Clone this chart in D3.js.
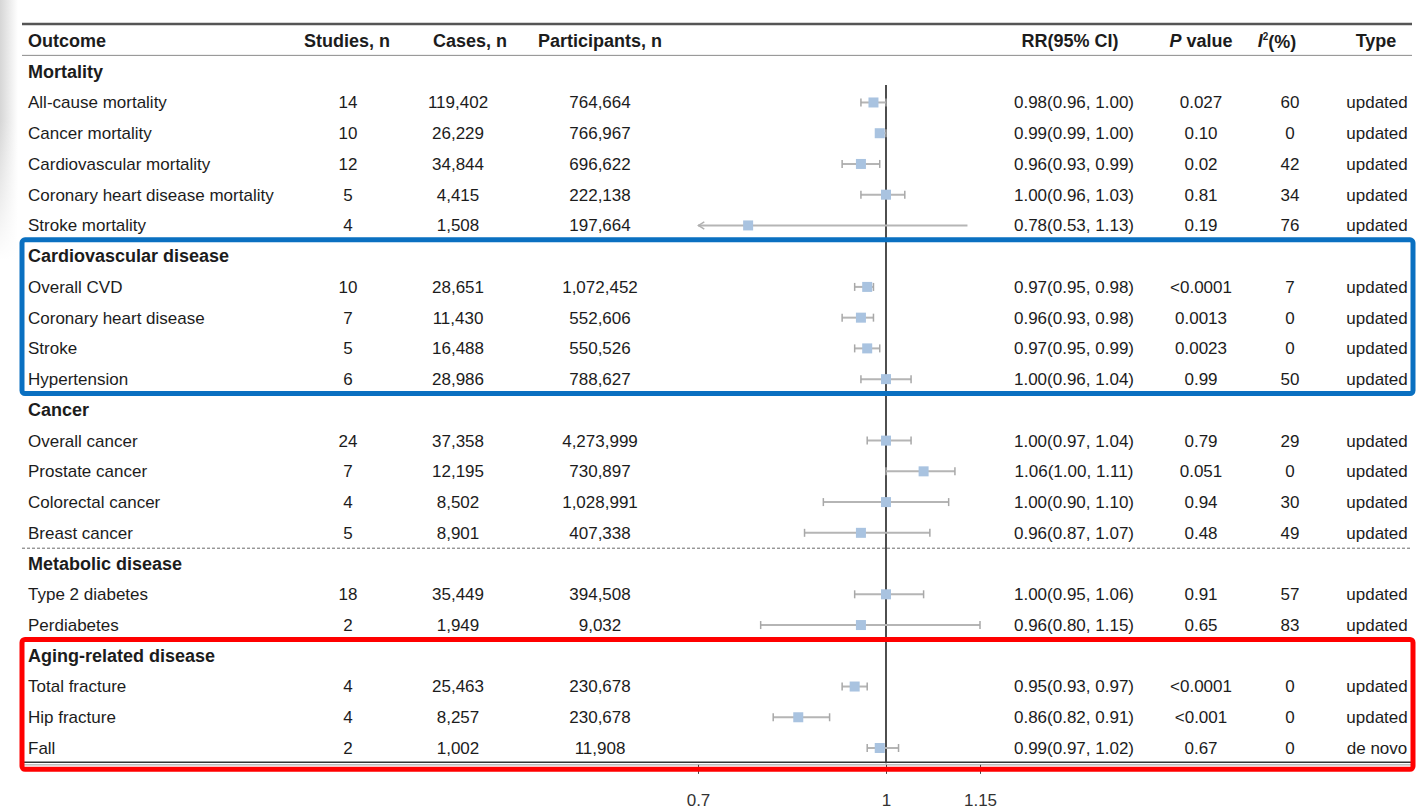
<!DOCTYPE html>
<html>
<head>
<meta charset="utf-8">
<script src="https://cdn.jsdelivr.net/npm/d3@7"></script>
<style>
  body { margin: 0; background: #fff; }
  svg { display: block; font-family: "Liberation Sans", Arial, sans-serif; }
</style>
</head>
<body>
<div id="chart"></div>
<script>
// rows of the table, in drawing order (section headers have no values)
const outcomes = [
  "Mortality", "All-cause mortality", "Cancer mortality", "Cardiovascular mortality",
  "Coronary heart disease mortality", "Stroke mortality",
  "Cardiovascular disease", "Overall CVD", "Coronary heart disease", "Stroke", "Hypertension",
  "Cancer", "Overall cancer", "Prostate cancer", "Colorectal cancer", "Breast cancer",
  "Metabolic disease", "Type 2 diabetes", "Perdiabetes",
  "Aging-related disease", "Total fracture", "Hip fracture", "Fall"
];
const sections = ["Mortality", "Cardiovascular disease", "Cancer", "Metabolic disease", "Aging-related disease"];
const studies = [null, 14, 10, 12, 5, 4, null, 10, 7, 5, 6, null, 24, 7, 4, 5, null, 18, 2, null, 4, 4, 2];
const cases = [null, 119402, 26229, 34844, 4415, 1508, null, 28651, 11430, 16488, 28986,
  null, 37358, 12195, 8502, 8901, null, 35449, 1949, null, 25463, 8257, 1002];
const participants = [null, 764664, 766967, 696622, 222138, 197664, null, 1072452, 552606, 550526, 788627,
  null, 4273999, 730897, 1028991, 407338, null, 394508, 9032, null, 230678, 230678, 11908];
const rr = [null, 0.98, 0.99, 0.96, 1.00, 0.78, null, 0.97, 0.96, 0.97, 1.00,
  null, 1.00, 1.06, 1.00, 0.96, null, 1.00, 0.96, null, 0.95, 0.86, 0.99];
const ciLow = [null, 0.96, 0.99, 0.93, 0.96, 0.53, null, 0.95, 0.93, 0.95, 0.96,
  null, 0.97, 1.00, 0.90, 0.87, null, 0.95, 0.80, null, 0.93, 0.82, 0.97];
const ciHigh = [null, 1.00, 1.00, 0.99, 1.03, 1.13, null, 0.98, 0.98, 0.99, 1.04,
  null, 1.04, 1.11, 1.10, 1.07, null, 1.06, 1.15, null, 0.97, 0.91, 1.02];
const pValues = [null, "0.027", "0.10", "0.02", "0.81", "0.19", null, "<0.0001", "0.0013", "0.0023", "0.99",
  null, "0.79", "0.051", "0.94", "0.48", null, "0.91", "0.65", null, "<0.0001", "<0.001", "0.67"];
const i2 = [null, 60, 0, 42, 34, 76, null, 7, 0, 0, 50, null, 29, 0, 30, 49, null, 57, 83, null, 0, 0, 0];
const types = [null, "updated", "updated", "updated", "updated", "updated", null, "updated", "updated", "updated", "updated",
  null, "updated", "updated", "updated", "updated", null, "updated", "updated", null, "updated", "updated", "de novo"];
const axisTicks = [0.7, 1, 1.15];
const blueBoxRows = ["Cardiovascular disease", "Hypertension"];
const redBoxRows = ["Aging-related disease", "Fall"];

const width = 1419, height = 810;
const textColor = "#1c1c1c";

const rows = outcomes.map((name, i) => ({
  name, i,
  isSection: sections.includes(name),
  studies: studies[i], cases: cases[i], participants: participants[i],
  rr: rr[i], lo: ciLow[i], hi: ciHigh[i],
  p: pValues[i], i2: i2[i], type: types[i]
}));

const y = d3.scaleLinear().domain([-1, outcomes.length - 1]).range([41, 748]);
const x = d3.scaleLinear().domain([0.7, 1.15]).range([698, 980]);
const xMin = x.domain()[0];
const fmtN = d3.format(",");
const f2 = d3.format(".2f");

const svg = d3.select("#chart").append("svg")
  .attr("width", width).attr("height", height)
  .attr("viewBox", [0, 0, width, height]);

// faint scan shadow on the left edge
const defs = svg.append("defs");
const grad = defs.append("linearGradient").attr("id", "edge").attr("x1", 0).attr("x2", 1);
grad.append("stop").attr("offset", 0).attr("stop-color", "#d6d6d6");
grad.append("stop").attr("offset", 1).attr("stop-color", "#fff");
const gradV = defs.append("linearGradient").attr("id", "fade").attr("x1", 0).attr("x2", 0).attr("y1", 0).attr("y2", 1);
gradV.append("stop").attr("offset", 0).attr("stop-color", "#fff").attr("stop-opacity", 0);
gradV.append("stop").attr("offset", 1).attr("stop-color", "#fff").attr("stop-opacity", 1);
defs.append("marker").attr("id", "arrow")
  .attr("viewBox", "0 0 10 10").attr("refX", 1).attr("refY", 5)
  .attr("markerWidth", 9).attr("markerHeight", 9).attr("orient", "auto")
  .attr("markerUnits", "userSpaceOnUse")
  .append("path").attr("d", "M8,1L1.5,5L8,9").attr("fill", "none")
  .attr("stroke", "#b0b0b0").attr("stroke-width", 1.6);

svg.append("rect").attr("x", 0).attr("y", 0).attr("width", 18).attr("height", 260).attr("fill", "url(#edge)");
svg.append("rect").attr("x", 0).attr("y", 120).attr("width", 18).attr("height", 140).attr("fill", "url(#fade)");

const left = 22, right = 1412;

// rules
svg.append("line").attr("x1", left).attr("x2", right).attr("y1", 24).attr("y2", 24)
  .attr("stroke", "#555").attr("stroke-width", 2.5);
svg.append("line").attr("x1", left).attr("x2", right).attr("y1", y(-0.5) - 1).attr("y2", y(-0.5) - 1)
  .attr("stroke", "#8a8a8a").attr("stroke-width", 1);
svg.append("g").selectAll("line")
  .data(sections.slice(1).map((s) => outcomes.indexOf(s) - 0.5))
  .join("line")
  .attr("x1", left).attr("x2", right)
  .attr("y1", (d) => y(d)).attr("y2", (d) => y(d))
  .attr("stroke", "#6a6a6a").attr("stroke-width", 1).attr("stroke-dasharray", "3,2");
const yBottom = y(outcomes.length - 0.5);
svg.append("line").attr("x1", left).attr("x2", right).attr("y1", yBottom - 1).attr("y2", yBottom - 1)
  .attr("stroke", "#333").attr("stroke-width", 1.5);
svg.append("line").attr("x1", left).attr("x2", right).attr("y1", yBottom + 1.5).attr("y2", yBottom + 1.5)
  .attr("stroke", "#999").attr("stroke-width", 1);

// header
const headers = [
  { text: "Outcome", x: 28, anchor: "start" },
  { text: "Studies, n", x: 347, anchor: "middle" },
  { text: "Cases, n", x: 470, anchor: "middle" },
  { text: "Participants, n", x: 600, anchor: "middle" },
  { text: "RR(95% CI)", x: 1070, anchor: "middle" },
  { text: "P value", x: 1201, anchor: "middle" },
  { text: "I2(%)", x: 1277, anchor: "middle" },
  { text: "Type", x: 1376, anchor: "middle" }
];
const gHead = svg.append("g")
  .attr("font-weight", "bold").attr("font-size", 18).attr("fill", textColor);
headers.forEach((h) => {
  const t = gHead.append("text").attr("x", h.x).attr("y", y(-1)).attr("dy", "0.35em")
    .attr("text-anchor", h.anchor);
  if (h.text === "P value") {
    t.append("tspan").attr("font-style", "italic").text("P");
    t.append("tspan").text(" value");
  } else if (h.text === "I2(%)") {
    t.append("tspan").attr("font-style", "italic").text("I");
    t.append("tspan").attr("font-size", 10).attr("dy", "-0.7em").text("2");
    t.append("tspan").attr("dy", "0.45em").text("(%)");
  } else {
    t.text(h.text);
  }
});

// table body
const gBody = svg.append("g").attr("fill", textColor).attr("font-size", 17);
const row = gBody.selectAll("g.row").data(rows).join("g")
  .attr("class", "row")
  .attr("transform", (d) => `translate(0,${y(d.i)})`);

row.append("text")
  .attr("x", 28).attr("dy", "0.35em")
  .attr("font-weight", (d) => (d.isSection ? "bold" : null))
  .attr("font-size", (d) => (d.isSection ? 18 : null))
  .text((d) => d.name);

const cols = [
  { x: 348, value: (d) => d.studies },
  { x: 458, value: (d) => fmtN(d.cases) },
  { x: 600, value: (d) => fmtN(d.participants) },
  { x: 1074, value: (d) => `${f2(d.rr)}(${f2(d.lo)}, ${f2(d.hi)})` },
  { x: 1201, value: (d) => d.p },
  { x: 1290, value: (d) => d.i2 },
  { x: 1377, value: (d) => d.type }
];
const dataRows = row.filter((d) => !d.isSection);
cols.forEach((c) => {
  dataRows.append("text")
    .attr("x", c.x).attr("dy", "0.35em").attr("text-anchor", "middle")
    .text(c.value);
});

// reference line at RR = 1
svg.append("line")
  .attr("x1", x(1)).attr("x2", x(1)).attr("y1", 85).attr("y2", yBottom)
  .attr("stroke", "#3a3a3a").attr("stroke-width", 1.8);

// forest marks
const gForest = svg.append("g");
const est = gForest.selectAll("g").data(rows.filter((d) => !d.isSection)).join("g")
  .attr("transform", (d) => `translate(0,${y(d.i)})`);
est.append("line")
  .attr("x1", (d) => x(Math.max(d.lo, xMin)))
  .attr("x2", (d) => x(d.hi))
  .attr("stroke", "#b5b5b5").attr("stroke-width", 2)
  .attr("marker-start", (d) => (d.lo < xMin ? "url(#arrow)" : null));
// whisker caps (none on a clipped, arrowed interval)
est.filter((d) => d.lo >= xMin).append("line")
  .attr("x1", (d) => x(d.lo)).attr("x2", (d) => x(d.lo)).attr("y1", -4).attr("y2", 4)
  .attr("stroke", "#a8a8a8").attr("stroke-width", 1.5);
est.filter((d) => d.lo >= xMin).append("line")
  .attr("x1", (d) => x(d.hi)).attr("x2", (d) => x(d.hi)).attr("y1", -4).attr("y2", 4)
  .attr("stroke", "#a8a8a8").attr("stroke-width", 1.5);
est.append("rect")
  .attr("x", (d) => x(d.rr) - 5).attr("y", -5)
  .attr("width", 10).attr("height", 10)
  .attr("fill", "#a9c3e0");

// x axis
svg.append("g")
  .attr("transform", `translate(0,${yBottom + 1.5})`)
  .call(d3.axisBottom(x).tickValues(axisTicks).tickFormat((d) => d).tickSize(9).tickPadding(20))
  .call((g) => g.select(".domain").remove())
  .call((g) => g.selectAll(".tick line").attr("stroke", "#444"))
  .call((g) => g.selectAll(".tick text")
    .attr("font-size", 17).attr("fill", "#333")
    .attr("font-family", "'Liberation Sans', Arial, sans-serif"));

// highlight boxes
const boxes = [
  { rows: blueBoxRows, color: "#0a70c1", pad: 0 },
  { rows: redBoxRows, color: "#ff0000", pad: 7 }
];
svg.append("g").selectAll("rect").data(boxes).join("rect")
  .attr("x", left).attr("width", right - left + 1)
  .attr("y", (d) => y(outcomes.indexOf(d.rows[0]) - 0.5) - 1)
  .attr("height", (d) => y(outcomes.indexOf(d.rows[1]) + 0.5) - y(outcomes.indexOf(d.rows[0]) - 0.5) + d.pad)
  .attr("rx", 3)
  .attr("fill", "none").attr("stroke", (d) => d.color).attr("stroke-width", 5);
</script>
</body>
</html>
